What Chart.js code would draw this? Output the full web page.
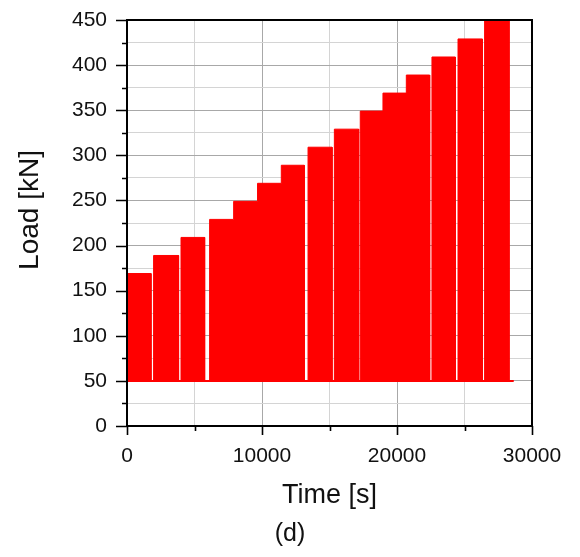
<!DOCTYPE html>
<html><head><meta charset="utf-8">
<script src="https://cdn.jsdelivr.net/npm/chart.js@4.4.1/dist/chart.umd.min.js"></script>
<style>html,body{margin:0;padding:0;background:#fff}</style>
</head><body>
<canvas id="c" width="580" height="557" style="display:block;width:580px;height:557px"></canvas>
<script>
// Load blocks of the cyclic test (time in s, load in kN)
const blockStart = [0, 1970, 4000, 6120, 7900, 9670, 11430, 13410, 15360, 17280, 18960, 20690, 22590, 24520, 26490];
const blockEnd   = [1780, 3820, 5750, 7900, 9670, 11430, 13130, 15190, 17160, 18960, 20690, 22420, 24320, 26320, 28300];
const peakLoad   = [169, 189, 209, 229, 249, 269, 289, 309, 329, 349, 369, 389, 409, 429, 449];
const minLoad = 50;
const testEnd = 28640;
const xTickLabels = [0, 10000, 20000, 30000];
const yTickLabels = [0, 50, 100, 150, 200, 250, 300, 350, 400, 450];

// Build envelope of the load signal from the blocks
const envelope = [{x: blockStart[0], y: minLoad}];
let prevEnd = blockStart[0];
for (let i = 0; i < peakLoad.length; i++) {
  if (blockStart[i] > prevEnd) {
    envelope.push({x: prevEnd, y: minLoad});
    envelope.push({x: blockStart[i], y: minLoad});
  }
  envelope.push({x: blockStart[i], y: peakLoad[i]});
  envelope.push({x: blockEnd[i], y: peakLoad[i]});
  prevEnd = blockEnd[i];
}
envelope.push({x: prevEnd, y: minLoad});
envelope.push({x: testEnd, y: minLoad});
const baseline = [{x: blockStart[0], y: minLoad}, {x: testEnd, y: minLoad}];

const FONT = "'Liberation Sans', Arial, sans-serif";
const RED = '#ff0000';

const framePlugin = {
  id: 'framePlugin',
  afterDatasetsDraw(chart) {
    const {ctx, chartArea: a, scales: {x, y}} = chart;
    ctx.save();
    ctx.strokeStyle = '#000';
    ctx.lineWidth = 2;
    ctx.strokeRect(a.left, a.top, a.right - a.left, a.bottom - a.top);
    ctx.lineWidth = 1.6;
    ctx.beginPath();
    y.ticks.forEach(t => {
      const py = Math.round(y.getPixelForValue(t.value)) + 0.5;
      const len = yTickLabels.includes(t.value) ? 11 : 5;
      ctx.moveTo(a.left - len, py); ctx.lineTo(a.left, py);
    });
    x.ticks.forEach(t => {
      const px = Math.round(x.getPixelForValue(t.value)) + 0.5;
      const len = xTickLabels.includes(t.value) ? 9 : 5;
      ctx.moveTo(px, a.bottom); ctx.lineTo(px, a.bottom + len);
    });
    ctx.stroke();
    ctx.fillStyle = '#111';
    ctx.textAlign = 'center';
    ctx.textBaseline = 'middle';
    ctx.font = '25px ' + FONT;
    ctx.fillText('(d)', 290, 534);
    ctx.translate(30, 210);
    ctx.rotate(-Math.PI / 2);
    ctx.font = '28px ' + FONT;
    ctx.fillText('Load [kN]', 0, 0);
    ctx.restore();
  }
};

new Chart(document.getElementById('c'), {
  type: 'line',
  data: {
    datasets: [
      {data: envelope, borderColor: RED, backgroundColor: RED, borderWidth: 1,
       pointRadius: 0, tension: 0, fill: {value: minLoad}},
      {data: baseline, borderColor: RED, borderWidth: 2, pointRadius: 0, fill: false}
    ]
  },
  options: {
    responsive: false,
    animation: false,
    devicePixelRatio: 1,
    layout: {padding: {top: 20, right: 48, left: 0, bottom: 0}},
    plugins: {legend: {display: false}, tooltip: {enabled: false}},
    scales: {
      x: {
        type: 'linear', min: 0, max: 30000,
        afterFit(s) { s.height = 131; s.paddingLeft = 0; s.paddingRight = 0; },
        ticks: {stepSize: 5000, autoSkip: false, maxRotation: 0, padding: 18,
          color: '#111', font: {family: FONT, size: 21},
          callback: v => xTickLabels.includes(v) ? String(v) : ''},
        grid: {drawTicks: false,
          color: c => (c.tick && xTickLabels.includes(c.tick.value)) ? '#a8a8a8' : '#d4d4d4'},
        border: {display: true, color: '#000', width: 2},
        title: {display: true, text: 'Time [s]', color: '#111',
          font: {family: FONT, size: 27}, padding: {top: 0, bottom: 45}}
      },
      y: {
        type: 'linear', min: 0, max: 450,
        afterFit(s) { s.width = 127; s.paddingTop = 0; s.paddingBottom = 0; },
        ticks: {stepSize: 25, autoSkip: false, padding: 20,
          color: '#111', font: {family: FONT, size: 21},
          callback: v => yTickLabels.includes(v) ? String(v) : ''},
        grid: {drawTicks: false,
          color: c => (c.tick && yTickLabels.includes(c.tick.value)) ? '#a8a8a8' : '#d4d4d4'},
        border: {display: true, color: '#000', width: 2},
        title: {display: false}
      }
    }
  },
  plugins: [framePlugin]
});
</script>
</body></html>
